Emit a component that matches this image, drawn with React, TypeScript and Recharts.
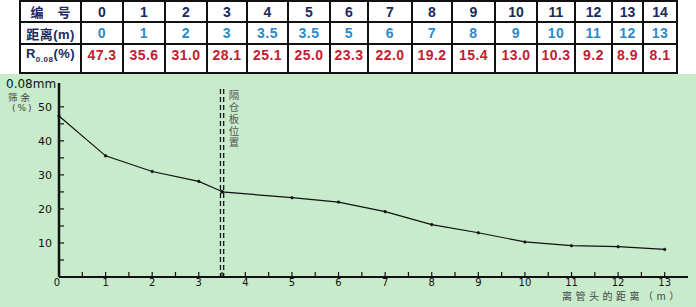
import React from "react"
import { Line, LineChart, ReferenceLine, XAxis, YAxis } from "recharts"

// sample numbers, distance from mill head (m), residue on 0.08 mm sieve (%)
const sampleIds = ["0", "1", "2", "3", "4", "5", "6", "7", "8", "9", "10", "11", "12", "13", "14"]
const distances = [0, 1, 2, 3, 3.5, 3.5, 5, 6, 7, 8, 9, 10, 11, 12, 13]
const residues = [47.3, 35.6, 31.0, 28.1, 25.1, 25.0, 23.3, 22.0, 19.2, 15.4, 13.0, 10.3, 9.2, 8.9, 8.1]

// partition plate position (m)
const partitionAt = 3.5

const xTicks = [0, 0.5, 1, 1.5, 2, 2.5, 3, 3.5, 4, 4.5, 5, 5.5, 6, 6.5, 7, 7.5, 8, 8.5, 9, 9.5, 10, 10.5, 11, 11.5, 12, 12.5, 13]
const xLabels = [0, 1, 2, 3, 4, 5, 6, 7, 8, 9, 10, 11, 12, 13]
const yTicks = [5, 10, 15, 20, 25, 30, 35, 40, 45, 50]
const yLabels = [10, 20, 30, 40, 50]

const chartData = distances.map((d, i) => ({ distance: d, residue: residues[i] }))

const colEdges = [20, 81, 123, 165, 207, 247, 288, 330, 368, 412, 452, 495, 537, 575, 612, 643, 677]
const rowEdges = [0, 21, 43, 72]

const NAVY = "#1b2a5c"
const BLUE = "#2f88c9"
const RED = "#c3202e"
const GREEN = "#c8ebcb"
const axisFont = "'DejaVu Sans', sans-serif"

function fmt(v: number) {
  return Number.isInteger(v) ? String(v) : v.toFixed(1)
}

function DataTable() {
  const rows: { head: React.ReactNode; cells: string[]; color: string }[] = [
    { head: <span>编<span style={{ display: "inline-block", width: 14 }} />号</span>, cells: sampleIds, color: NAVY },
    { head: <span>距离(m)</span>, cells: distances.map(fmt), color: BLUE },
    {
      head: (
        <span>
          R<sub style={{ fontSize: 8 }}>0.08</sub>(%)
        </span>
      ),
      cells: residues.map((v) => v.toFixed(1)),
      color: RED,
    },
  ]
  const cells: React.ReactNode[] = []
  rows.forEach((row, r) => {
    const y0 = rowEdges[r]
    const h = rowEdges[r + 1] - y0
    const all = [row.head, ...row.cells]
    all.forEach((c, ci) => {
      const x0 = colEdges[ci]
      const w = colEdges[ci + 1] - x0
      cells.push(
        <div
          key={`${r}-${ci}`}
          style={{
            position: "absolute",
            left: x0,
            top: y0,
            width: w,
            height: h,
            boxSizing: "border-box",
            border: "1px solid #111",
            outline: "1px solid #111",
            display: "flex",
            alignItems: "center",
            justifyContent: "center",
            paddingBottom: r === 2 ? 8 : 0,
            color: ci === 0 ? NAVY : row.color,
            fontWeight: 700,
            fontSize: ci === 0 ? 13 : 14,
            letterSpacing: r === 0 ? 0 : 0.5,
            fontFamily: "Arial, 'Liberation Sans', 'Noto Sans CJK SC', sans-serif",
          }}
        >
          {c}
        </div>
      )
    })
  })
  return <div style={{ position: "absolute", left: 0, top: 1, width: 696, height: 74, background: "#fff" }}>{cells}</div>
}

function XTick(props: any) {
  const { x, y, payload } = props
  const v = payload.value
  const showLabel = xLabels.includes(v)
  return (
    <g>
      {v !== 0 && <line x1={x} y1={y} x2={x} y2={y - 5} stroke="#111" strokeWidth={1.2} />}
      {showLabel && (
        <text x={v === 0 ? x - 2 : x} y={y + 9} textAnchor="middle" fontSize={10} fontFamily={axisFont} fill="#111">
          {v}
        </text>
      )}
    </g>
  )
}

function YTick(props: any) {
  const { x, y, payload } = props
  const v = payload.value
  return (
    <g>
      <line x1={x} y1={y} x2={x + 5} y2={y} stroke="#111" strokeWidth={1.2} />
      {yLabels.includes(v) && (
        <text x={x - 7} y={y + 4} textAnchor="end" fontSize={11} fontFamily={axisFont} fill="#111">
          {v}
        </text>
      )}
    </g>
  )
}

function PartitionShape(props: any) {
  const { x1, y1, y2 } = props
  const top = Math.min(y1, y2) + 6
  const bottom = Math.max(y1, y2) + 1
  return (
    <g>
      <line x1={x1 - 1.6} y1={top} x2={x1 - 1.6} y2={bottom} stroke="#111" strokeWidth={1.3} strokeDasharray="5 3" />
      <line x1={x1 + 1.6} y1={top} x2={x1 + 1.6} y2={bottom} stroke="#111" strokeWidth={1.3} strokeDasharray="5 3" />
    </g>
  )
}

// vertical caption beside the partition line
function PartitionLabel(props: any) {
  const { viewBox } = props
  return (
    <text
      x={viewBox.x + 12}
      y={viewBox.y + 7}
      fontSize={10.5}
      letterSpacing={1.3}
      fontFamily="'Noto Sans CJK SC', sans-serif"
      fill="#555"
      style={{ writingMode: "vertical-rl" }}
    >
      隔仓板位置
    </text>
  )
}

export default function App() {
  return (
    <div style={{ position: "absolute", left: 0, top: 0, width: 696, height: 307, background: "#fff", overflow: "hidden" }}>
      <DataTable />
      <div style={{ position: "absolute", left: 0, top: 74, width: 696, height: 233, background: GREEN }}>
        <LineChart width={696} height={233} data={chartData} margin={{ top: 9, right: 8, bottom: 0, left: 0 }}>
          <XAxis
            dataKey="distance"
            type="number"
            domain={[0, 13.5]}
            ticks={xTicks}
            interval={0}
            height={30}
            tickSize={0}
            tickMargin={0}
            tickLine={false}
            axisLine={{ stroke: "#111", strokeWidth: 2 }}
            tick={<XTick />}
          />
          <YAxis
            type="number"
            domain={[0, 57]}
            ticks={yTicks}
            interval={0}
            width={59}
            tickSize={0}
            tickMargin={0}
            tickLine={false}
            axisLine={{ stroke: "#111", strokeWidth: 2.5 }}
            tick={<YTick />}
          />
          <ReferenceLine
            x={partitionAt}
            shape={<PartitionShape />}
            label={<PartitionLabel />}
            ifOverflow="visible"
          />
          <Line
            dataKey="residue"
            type="linear"
            stroke="#111"
            strokeWidth={1.2}
            dot={{ r: 1.3, fill: "#111", stroke: "#111", strokeWidth: 0.6 }}
            isAnimationActive={false}
          />
        </LineChart>
        <div
          style={{ position: "absolute", left: 6, top: 5, fontSize: 12, lineHeight: "11px", fontFamily: axisFont, color: "#111" }}
        >
          0.08mm
        </div>
        <div
          style={{
            position: "absolute",
            left: 8,
            top: 18,
            fontSize: 9.5,
            lineHeight: "10px",
            letterSpacing: 3,
            fontFamily: "'Noto Sans CJK SC', sans-serif",
            color: "#444",
          }}
        >
          筛余
        </div>
        <div
          style={{
            position: "absolute",
            left: 12,
            top: 30,
            fontSize: 9,
            lineHeight: "9px",
            letterSpacing: 2,
            fontFamily: axisFont,
            color: "#444",
          }}
        >
          (%)
        </div>
        <div
          style={{
            position: "absolute",
            left: 562,
            top: 216,
            fontSize: 10,
            lineHeight: "12px",
            letterSpacing: 3.5,
            fontFamily: "'Noto Sans CJK SC', sans-serif",
            color: "#444",
            whiteSpace: "nowrap",
          }}
        >
          离管头的距离（m）
        </div>
      </div>
    </div>
  )
}
